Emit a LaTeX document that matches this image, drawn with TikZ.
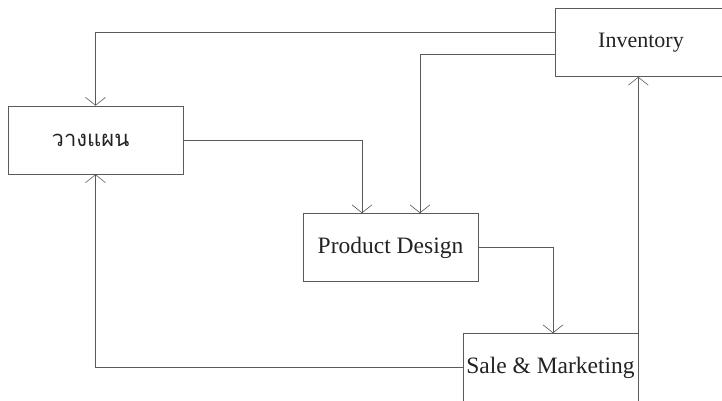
\documentclass[tikz,border=0pt]{standalone}
\usepackage{fontspec}
\setmainfont{Liberation Serif}
\newfontfamily\thaifont[Script=Thai]{Loma}
\usepackage{xcolor}
\usepackage{tikz}
\definecolor{scangrey}{HTML}{5A5A5A}
\definecolor{inkblack}{HTML}{222222}
\usetikzlibrary{arrows.meta,positioning}

\begin{document}
\begin{tikzpicture}[x=1pt,y=1pt,
  box/.style={draw=scangrey,line width=0.6pt,inner sep=2pt,align=center,
              text=inkblack,font=\fontsize{23.5}{27}\selectfont,
              minimum width=175pt,minimum height=68pt},
  arr/.style={-{Straight Barb[length=8pt,width=20pt]},draw=scangrey,line width=0.6pt}]
\useasboundingbox (0,0) rectangle (722,-400);
\node[box,minimum width=172pt,font=\fontsize{22}{26}\selectfont] (inv) at (641,-42.5) {Inventory};
\node[box,font=\fontsize{22}{26}\selectfont] (plan) at (95.5,-140) {\thaifont วางแผน\hspace*{10pt}};
\node[box] (pd) at (390.5,-247.5) {Product Design};
\node[box] (sm) at (550.5,-367.5) {Sale \& Marketing};
\draw[arr] ([yshift=10.5pt]inv.west) -| (plan.north);
\draw[arr] ([yshift=-11.5pt]inv.west) -| ([xshift=29.5pt]pd.north);
\draw[arr] (plan.east) -| ([xshift=-28.5pt]pd.north);
\draw[arr] (pd.east) -| ([xshift=2.5pt]sm.north);
\draw[arr] (sm.north east) -- (sm.north east |- inv.south);
\draw[arr] (sm.west) -| (plan.south);
\end{tikzpicture}
\end{document}
